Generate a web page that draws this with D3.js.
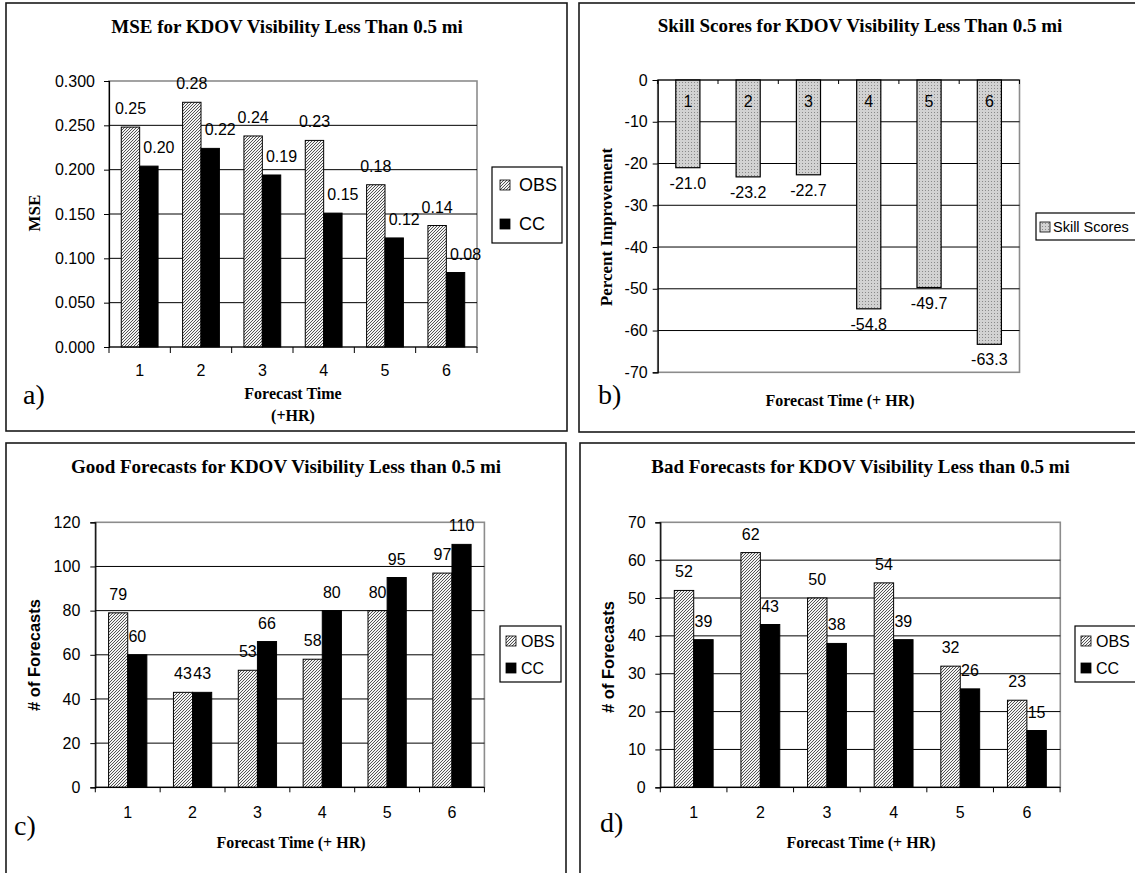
<!DOCTYPE html>
<html>
<head>
<meta charset="utf-8">
<script src="https://cdn.jsdelivr.net/npm/d3@7"></script>
<style>
  html, body { margin: 0; padding: 0; background: #fff; }
  svg { display: block; }
</style>
</head>
<body>
<svg id="chart" width="1135" height="873"></svg>
<script>
// ---------------- DATA ----------------
const categories = ["1", "2", "3", "4", "5", "6"];
const seriesNames = ["OBS", "CC"];

const mseObs = [0.248, 0.276, 0.238, 0.233, 0.183, 0.137];
const mseCC  = [0.204, 0.224, 0.194, 0.151, 0.123, 0.084];
const mseTicks = [0, 0.05, 0.1, 0.15, 0.2, 0.25, 0.3];

const skillScores = [-21.0, -23.2, -22.7, -54.8, -49.7, -63.3];
const skillTicks = [0, -10, -20, -30, -40, -50, -60, -70];

const goodObs = [79, 43, 53, 58, 80, 97];
const goodCC  = [60, 43, 66, 80, 95, 110];
const goodTicks = [0, 20, 40, 60, 80, 100, 120];

const badObs = [52, 62, 50, 54, 32, 23];
const badCC  = [39, 43, 38, 39, 26, 15];
const badTicks = [0, 10, 20, 30, 40, 50, 60, 70];

// ---------------- SETUP ----------------
const SERIF = "'Times New Roman', 'Liberation Serif', serif";
const SANS = "Arial, 'Liberation Sans', sans-serif";
const svg = d3.select("#chart");
const hy = f => (v => f(v).replace("\u2212", "-"));

const defs = svg.append("defs");
const hatch = defs.append("pattern").attr("id", "hatch")
  .attr("width", 3).attr("height", 3).attr("patternUnits", "userSpaceOnUse");
hatch.append("rect").attr("width", 3).attr("height", 3).attr("fill", "#f2f2f2");
hatch.append("path").attr("d", "M-1,1 l2,-2 M0,3 l3,-3 M2,4 l2,-2")
  .attr("stroke", "#404040").attr("stroke-width", 0.9);

const dots = defs.append("pattern").attr("id", "dots")
  .attr("width", 3).attr("height", 3).attr("patternUnits", "userSpaceOnUse");
dots.append("rect").attr("width", 3).attr("height", 3).attr("fill", "#d2d2d2");
dots.append("rect").attr("x", 1).attr("y", 1).attr("width", 1).attr("height", 1).attr("fill", "#8a8a8a");

const fills = { OBS: "url(#hatch)", CC: "#000" };

// panel frames
const frames = [
  { x: 6, y: 3, w: 561, h: 428 },
  { x: 579, y: 3, w: 570, h: 429 },
  { x: 6, y: 443, w: 560, h: 440 },
  { x: 580, y: 443, w: 570, h: 440 }
];
svg.selectAll("rect.frame").data(frames).join("rect")
  .attr("class", "frame")
  .attr("x", d => d.x).attr("y", d => d.y).attr("width", d => d.w).attr("height", d => d.h)
  .attr("fill", "none").attr("stroke", "#1a1a1a").attr("stroke-width", 1.6);

function text(g, x, y, str, opts) {
  const t = g.append("text").attr("x", x).attr("y", y).text(str)
    .attr("font-family", opts.family || SANS)
    .attr("font-size", opts.size || 16)
    .attr("font-weight", opts.weight || "normal")
    .attr("text-anchor", opts.anchor || "middle")
    .attr("fill", "#000");
  if (opts.rotate) t.attr("transform", `rotate(-90,${x},${y})`);
  return t;
}

function drawPlotFrame(g, cfg, x, y) {
  g.append("rect").attr("x", cfg.x0).attr("y", cfg.yTop)
    .attr("width", cfg.x1 - cfg.x0).attr("height", cfg.yBot - cfg.yTop)
    .attr("fill", "none").attr("stroke", "#8c8c8c").attr("stroke-width", 1.6);
  g.selectAll("line.grid").data(cfg.ticks.filter(t => t !== cfg.ticks[0] && t !== cfg.ticks[cfg.ticks.length - 1]))
    .join("line").attr("class", "grid")
    .attr("x1", cfg.x0).attr("x2", cfg.x1)
    .attr("y1", d => y(d)).attr("y2", d => y(d))
    .attr("stroke", "#000").attr("stroke-width", 1);
  const ax = g.append("g").attr("transform", `translate(${cfg.x0},0)`)
    .call(d3.axisLeft(y).tickValues(cfg.ticks).tickSize(5).tickPadding(cfg.yPad).tickFormat(cfg.tickFmt));
  ax.select(".domain").attr("stroke", "#000").attr("stroke-width", 1.2);
  ax.selectAll(".tick line").attr("stroke", "#000");
  ax.selectAll(".tick text").attr("font-family", SANS).attr("font-size", 16).attr("fill", "#000");
}

function drawXAxis(g, cfg, x, axisY, labelY, tickDir) {
  const bounds = d3.range(categories.length + 1).map(i => cfg.x0 + i * x.step());
  g.append("line").attr("x1", cfg.x0).attr("x2", cfg.x1).attr("y1", axisY).attr("y2", axisY)
    .attr("stroke", "#000").attr("stroke-width", 1.2);
  g.selectAll("line.xtick").data(bounds).join("line").attr("class", "xtick")
    .attr("x1", d => d).attr("x2", d => d)
    .attr("y1", axisY).attr("y2", axisY + tickDir)
    .attr("stroke", "#000");
  g.selectAll("text.xlab").data(categories).join("text").attr("class", "xlab")
    .attr("x", d => x(d) + x.bandwidth() / 2).attr("y", labelY)
    .attr("text-anchor", "middle").attr("font-family", SANS).attr("font-size", 16).text(d => d);
}

function drawLegend(g, lg, items) {
  g.append("rect").attr("x", lg.x).attr("y", lg.y).attr("width", lg.w).attr("height", lg.h)
    .attr("fill", "#fff").attr("stroke", "#000").attr("stroke-width", 1.2);
  items.forEach((it, i) => {
    const cy = lg.rows[i];
    g.append("rect").attr("x", lg.sx).attr("y", cy - lg.ss / 2).attr("width", lg.ss).attr("height", lg.ss)
      .attr("fill", it.fill).attr("stroke", "#000").attr("stroke-width", 0.8);
    text(g, lg.tx, cy + lg.fs * 0.36, it.name, { anchor: "start", size: lg.fs });
  });
}

function groupedPanel(cfg) {
  const g = svg.append("g");
  const x = d3.scaleBand().domain(categories).range([cfg.x0, cfg.x1])
    .paddingInner(cfg.padIn).paddingOuter(cfg.padOut);
  const xs = d3.scaleBand().domain(seriesNames).range([0, x.bandwidth()]);
  const y = d3.scaleLinear().domain(cfg.domain).range([cfg.yBot, cfg.yTop]);
  drawPlotFrame(g, cfg, x, y);

  const rows = categories.map((c, i) => seriesNames.map((s, j) => ({
    cat: c, series: s, value: cfg.values[j][i]
  }))).flat();

  g.selectAll("rect.bar").data(rows).join("rect").attr("class", "bar")
    .attr("x", d => x(d.cat) + xs(d.series))
    .attr("width", xs.bandwidth())
    .attr("y", d => y(d.value))
    .attr("height", d => y(0) - y(d.value))
    .attr("fill", d => fills[d.series])
    .attr("stroke", "#000").attr("stroke-width", 1);

  g.selectAll("text.val").data(rows).join("text").attr("class", "val")
    .attr("x", d => x(d.cat) + xs(d.series) + xs.bandwidth() / 2 + (d.series === "CC" ? cfg.ccDx : 0))
    .attr("y", d => y(d.value) - 13)
    .attr("text-anchor", "middle").attr("font-family", SANS).attr("font-size", 16)
    .text(d => cfg.labelFmt(d.value));

  drawXAxis(g, cfg, x, cfg.yBot, cfg.xLabelY, cfg.xTickLen);

  text(g, cfg.titleX, cfg.titleY, cfg.title, { family: SERIF, weight: "bold", size: 19 });
  cfg.xTitle.forEach(t => text(g, t.x, t.y, t.s, { family: SERIF, weight: "bold", size: 16 }));
  text(g, cfg.yTitle.x, cfg.yTitle.y, cfg.yTitle.s, {
    family: cfg.yTitle.family, weight: "bold", size: cfg.yTitle.size, rotate: true
  });
  text(g, cfg.letter.x, cfg.letter.y, cfg.letter.s, { family: SERIF, size: 28, anchor: "start" });
  drawLegend(g, cfg.legend, seriesNames.map(s => ({ name: s, fill: fills[s] })));
}

// ---------------- PANEL a ----------------
groupedPanel({
  x0: 109, x1: 477, yTop: 81, yBot: 347, domain: [0, 0.3], ticks: mseTicks,
  tickFmt: d3.format(".3f"), yPad: 9, padIn: 0.4, padOut: 0.2,
  values: [mseObs, mseCC], labelFmt: d3.format(".2f"), ccDx: 10,
  xLabelY: 375.5, xTickLen: 6,
  title: "MSE for KDOV Visibility Less Than 0.5 mi", titleX: 287, titleY: 33,
  xTitle: [{ x: 293, y: 398.5, s: "Forecast Time" }, { x: 293, y: 420.5, s: "(+HR)" }],
  yTitle: { x: 40, y: 213, s: "MSE", family: SERIF, size: 17 },
  letter: { x: 23, y: 404, s: "a)" },
  legend: { x: 492, y: 167, w: 70, h: 76, sx: 500, ss: 10, tx: 519, fs: 18, rows: [185, 224] }
});

// ---------------- PANEL b ----------------
(function () {
  const cfg = { x0: 657.7, x1: 1019.5, yTop: 80, yBot: 372.3, ticks: skillTicks,
    tickFmt: hy(d3.format("d")), yPad: 5 };
  const g = svg.append("g");
  const x = d3.scaleBand().domain(categories).range([cfg.x0, cfg.x1]).paddingInner(0.6).paddingOuter(0.3);
  const y = d3.scaleLinear().domain([-70, 0]).range([cfg.yBot, cfg.yTop]);
  drawPlotFrame(g, cfg, x, y);

  g.selectAll("rect.bar").data(skillScores).join("rect").attr("class", "bar")
    .attr("x", (d, i) => x(categories[i]))
    .attr("width", x.bandwidth())
    .attr("y", y(0))
    .attr("height", d => y(d) - y(0))
    .attr("fill", "url(#dots)").attr("stroke", "#000").attr("stroke-width", 1.2);

  g.selectAll("text.val").data(skillScores).join("text").attr("class", "val")
    .attr("x", (d, i) => x(categories[i]) + x.bandwidth() / 2)
    .attr("y", d => y(d) + 21)
    .attr("text-anchor", "middle").attr("font-family", SANS).attr("font-size", 16)
    .text(hy(d3.format(".1f")));

  drawXAxis(g, cfg, x, y(0), 106.5, 4);

  text(g, 860, 32, "Skill Scores for KDOV Visibility Less Than 0.5 mi", { family: SERIF, weight: "bold", size: 19 });
  text(g, 840, 405.5, "Forecast Time (+ HR)", { family: SERIF, weight: "bold", size: 16 });
  text(g, 612, 227, "Percent Improvement", { family: SERIF, weight: "bold", size: 17, rotate: true });
  text(g, 598, 404, "b)", { family: SERIF, size: 28, anchor: "start" });
  drawLegend(g, { x: 1036, y: 213, w: 110, h: 27, sx: 1040, ss: 10, tx: 1053, fs: 14.5, rows: [227] },
    [{ name: "Skill Scores", fill: "url(#dots)" }]);
})();

// ---------------- PANEL c ----------------
groupedPanel({
  x0: 95.3, x1: 484.4, yTop: 522.3, yBot: 787.3, domain: [0, 120], ticks: goodTicks,
  tickFmt: d3.format("d"), yPad: 10, padIn: 0.41, padOut: 0.205,
  values: [goodObs, goodCC], labelFmt: d3.format("d"), ccDx: 0,
  xLabelY: 817.5, xTickLen: 5,
  title: "Good Forecasts for KDOV Visibility Less than 0.5 mi", titleX: 286, titleY: 473,
  xTitle: [{ x: 291, y: 847.5, s: "Forecast Time (+ HR)" }],
  yTitle: { x: 40, y: 655, s: "# of Forecasts", family: SANS, size: 16.5 },
  letter: { x: 14, y: 835, s: "c)" },
  legend: { x: 500, y: 626, w: 61, h: 56, sx: 506, ss: 10, tx: 521, fs: 16, rows: [641, 668] }
});

// ---------------- PANEL d ----------------
groupedPanel({
  x0: 660.3, x1: 1060.3, yTop: 522.3, yBot: 787.3, domain: [0, 70], ticks: badTicks,
  tickFmt: d3.format("d"), yPad: 9.6, padIn: 0.417, padOut: 0.21,
  values: [badObs, badCC], labelFmt: d3.format("d"), ccDx: 0,
  xLabelY: 818, xTickLen: 5,
  title: "Bad Forecasts for KDOV Visibility Less than 0.5 mi", titleX: 860.5, titleY: 473,
  xTitle: [{ x: 861, y: 848, s: "Forecast Time (+ HR)" }],
  yTitle: { x: 614, y: 657, s: "# of Forecasts", family: SANS, size: 16.5 },
  letter: { x: 600, y: 832, s: "d)" },
  legend: { x: 1075, y: 626, w: 75, h: 56, sx: 1081, ss: 10, tx: 1096, fs: 16, rows: [641, 668] }
});
</script>
</body>
</html>
